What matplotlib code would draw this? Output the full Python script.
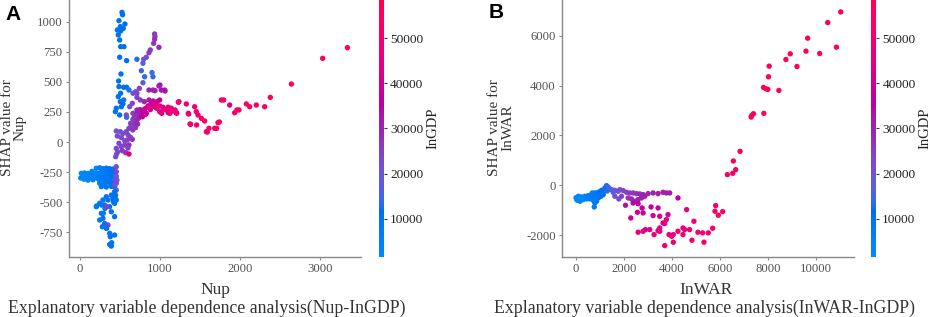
import matplotlib
matplotlib.use('Agg')
import matplotlib.pyplot as plt
import numpy as np
from matplotlib.colors import LinearSegmentedColormap

# ---------- style ----------
plt.rcParams.update({
    'font.family': 'serif',
    'font.serif': ['Liberation Serif', 'DejaVu Serif'],
    'axes.unicode_minus': False,
})

# ---------- data ----------
# Panel A: Nup vs SHAP value, coloured by InGDP
nup_x = [
    # upper blue column
    525, 533, 487, 562, 504, 541, 467, 508, 479, 496,
    508, 550, 496, 583, 712, 512, 483, 487, 546, 583,
    612, 508, 479, 504, 454, 442, 517, 537, 546, 583, 496,
    # rising purple branch
    933, 937, 933, 921, 987, 879, 862, 829, 796, 787,
    767, 808, 900, 912, 787, 696, 712, 662, 742, 862,
    912, 987, 1017, 1058, 712, 754, 804, 862, 912, 962,
    996, 879, 933, 1037, 1079, 1142, 1171, 1237, 1208, 1104,
    996, 829, 767, 712, 654, 621, 662, 579, 662, 633,
    683, 612, 579, 537, 504, 454, 467, 517, 592, 654,
    558, 517, 454, 487, 612, 529, 571, 612, 458, 471, 446,
    675, 700, 725, 750, 690, 710, 735, 760, 785, 800,
    640, 660, 695, 720, 600, 630, 560, 600, 820, 850,
    880, 900, 940, 960, 1000, 1050, 1100, 820, 780,
    # red tail
    1329, 1358, 1383, 1433, 1454, 1475, 1517, 1558, 1579, 1612,
    1683, 1725, 1767, 1796, 1871, 1933, 1962, 1987, 2079, 2121,
    2204, 2308, 2379, 2642, 3033, 3342,
    1229, 1125, 1188, 1021, 1125, 1208, 1354, 1375, 1458, 1708,
    1592, 1742, 1000, 938, 1063, 896, 958,
    # lower blue cluster
    204, 246, 287, 329, 371, 412,
    17, 58, 100, 142, 183, 225, 267, 308, 350, 392, 433,
    38, 79, 121, 163, 204, 246, 287, 329, 371, 412, 454,
    100, 163, 246, 287, 329, 371, 433,
    246, 308, 371, 412, 454,
    267, 329, 392, 433,
    10, 50, 130, 190, 225, 150, 270, 320, 390,
    454, 454, 462, 433, 454, 446,
    433, 392, 329, 287, 350, 412, 454, 246, 308, 204,
    433, 371, 392, 433, 267, 287, 246, 308, 329, 279,
    371, 433, 379, 371, 392, 208, 271, 312, 417, 437,
    350, 333, 292, 396, 333,
]
nup_shap = [
    1080, 1060, 1011, 983, 961, 947, 933, 925, 892, 850,
    794, 794, 706, 678, 689, 567, 508, 461, 456, 456,
    433, 406, 378, 336, 281, 253, 294, 317, 350, 206, 225,
    900, 878, 856, 822, 789, 767, 744, 706, 689, 656,
    594, 544, 578, 544, 494, 419, 406, 406, 447, 433,
    433, 467, 433, 433, 372, 350, 336, 350, 342, 336,
    350, 308, 294, 289, 267, 281, 258, 336, 244, 244,
    253, 239, 225, 267, 322, 294, 239, 225, 189, 156,
    142, 114, 86, 72, 86, 92, 50, 36, 17, 22,
    -25, -39, -53, -11, -25, -72, -89, -100, -100, -81, -122,
    200, 230, 250, 270, 160, 180, 200, 220, 250, 270,
    130, 100, 120, 150, 60, 40, 10, -50, 280, 300,
    270, 320, 310, 280, 300, 270, 290, 230, 210,
    317, 233, 147, 294, 253, 225, 197, 175, 86, 114,
    114, 161, 350, 350, 308, 244, 267, 267, 317, 294,
    308, 294, 372, 483, 697, 786,
    331, 281, 267, 239, 239, 239, 239, 150, 142, 114,
    83, 167, 475, 428, 425, 328, 322,
    -219, -215, -222, -218, -222, -225,
    -261, -258, -262, -265, -260, -262, -258, -265, -262, -258, -262,
    -289, -285, -292, -288, -293, -289, -285, -292, -288, -290, -285,
    -318, -315, -320, -316, -322, -315, -317,
    -344, -348, -342, -346, -344,
    -372, -375, -370, -372,
    -300, -310, -300, -280, -305, -245, -240, -240, -240,
    -206, -247, -317, -358, -400, -442,
    -414, -442, -456, -483, -483, -469, -483, -511, -525, -539,
    -511, -539, -581, -622, -594, -636, -650, -678, -719, -706,
    -761, -775, -789, -853, -867, -533, -525, -553, -497, -456,
    -692, -719, -594, -839, -539,
]
nup_gdp = [
    11000, 11000, 10500, 11500, 11000, 11000, 10500, 11000, 10500, 11000,
    11000, 11500, 10500, 12000, 13000, 11000, 10500, 11000, 11500, 12000,
    13000, 11000, 10500, 11000, 10500, 10500, 11500, 12000, 12500, 13500, 12000,
    27000, 27000, 28000, 27000, 29000, 27000, 26000, 22000, 20000, 18000,
    14000, 14000, 15000, 14000, 18000, 22000, 24000, 20000, 25000, 30000,
    31000, 31000, 32000, 32000, 25000, 26000, 30000, 32000, 33000, 34000,
    35000, 36000, 38000, 40000, 42000, 45000, 46000, 48000, 47000, 44000,
    42000, 38000, 36000, 30000, 24000, 22000, 26000, 22000, 25000, 24000,
    27000, 25000, 24000, 22000, 22000, 20000, 22000, 24000, 26000, 28000,
    25000, 24000, 22000, 24000, 28000, 26000, 27000, 44000, 20000, 22000, 20000,
    26000, 28000, 30000, 32000, 27000, 28000, 30000, 33000, 35000, 38000,
    25000, 26000, 27000, 29000, 24000, 25000, 23000, 25000, 40000, 42000,
    43000, 44000, 45000, 46000, 46000, 47000, 48000, 40000, 36000,
    50000, 50000, 52000, 51000, 51000, 52000, 52000, 53000, 53000, 53000,
    54000, 54000, 52000, 52000, 42000, 53000, 53000, 53000, 54000, 54000,
    55000, 55000, 55000, 56000, 56000, 57000,
    49000, 48000, 49000, 46000, 48000, 49000, 50000, 51000, 52000, 54000,
    53000, 54000, 30000, 31000, 33000, 40000, 44000,
    6000, 7000, 8000, 9000, 10000, 11000,
    3000, 3500, 4000, 4500, 5000, 6000, 7000, 8000, 9000, 10000, 11000,
    3000, 3500, 4000, 5000, 6000, 7000, 8000, 9000, 10000, 11000, 18000,
    4000, 5000, 7000, 8000, 9000, 10000, 20000,
    7000, 8500, 10000, 11000, 20000,
    8000, 9000, 10500, 11000,
    2500, 3000, 4500, 5500, 6500, 5000, 7500, 8500, 11000,
    22000, 24000, 22000, 20000, 18000, 16000,
    11000, 10500, 10000, 9500, 10000, 11000, 11500, 9000, 9500, 8500,
    11000, 10000, 10500, 11000, 9000, 9500, 9000, 9500, 10000, 9500,
    10500, 11000, 10500, 10500, 11000, 8500, 9000, 9500, 11000, 11000,
    25000, 10000, 9000, 10500, 25000,
]

# Panel B: InWAR vs SHAP value, coloured by InGDP
war_x = [
    # blue cluster
    28, 97, 235, 374, 512, 650, 789, 927, 1066, 1204,
    1273, 1343, 1412, 166, 304, 443, 581, 720, 789, 761,
    858, 927, 1038, 1135, 623, 678, 817, 997, 1135, 1481,
    1619, 1758, 1550,
    50, 120, 200, 280, 350, 420, 480, 550, 600, 700,
    750, 850, 900, 1000, 1100, 1200, 1300, 750, 700, 0, 60,
    # purple band
    1827, 1965, 2104, 2242, 2380, 2519, 2657, 2796, 3003, 3211,
    3419, 3626, 3765, 3903, 4249, 1896, 2062, 2173, 2311, 2450,
    2588, 2727, 2865, 1785, 1619,
    # magenta scatter
    2284, 2560, 2380, 2588, 2796, 2754, 3128, 3211, 3419, 3488,
    3626, 3834, 3765, 3696, 3488, 3419, 3073, 3253, 2893, 2796,
    2588, 3488, 3876, 3986, 4055, 3696, 4055, 4249, 4457, 4526,
    4457, 4733, 4830, 4913, 4609, 5080, 5275, 5331, 5512, 5693,
    5819, 5791, 5930, 6111,
    # red rise
    6307, 6530, 6557, 6655, 6836, 7296, 7324, 7394, 7826, 7812,
    7910, 7993, 8021, 8049, 8453, 8746, 8927, 9206, 9582, 9652,
    10153, 10488, 10850, 11031,
]
war_shap = [
    -575, -441, -508, -441, -415, -375, -308, -281, -201, -107,
    -13, -80, -147, -642, -575, -548, -548, -575, -709, -870,
    -642, -508, -441, -375, -508, -308, -441, -334, -241, -174,
    -201, -241, -281,
    -520, -560, -470, -480, -520, -470, -500, -450, -420, -450,
    -380, -350, -420, -260, -300, -200, -230, -650, -520, -500, -600,
    -174, -214, -281, -308, -308, -334, -348, -375, -334, -308,
    -334, -281, -308, -308, -508, -441, -803, -508, -548, -642,
    -575, -508, -441, -548, -441,
    -1311, -1084, -709, -736, -1110, -910, -870, -1217, -910, -1244,
    -1512, -1177, -1378, -1538, -1712, -1819, -1779, -1980, -1779, -1846,
    -1886, -1846, -1980, -2047, -1980, -2421, -2288, -1846, -1712, -1779,
    -1980, -1779, -2207, -1445, -977, -1886, -1911, -2285, -1911, -1724,
    -815, -1042, -1203, -1056,
    428, 481, 976, 628, 1363, 2740, 2806, 2873, 2887, 3929,
    3876, 3849, 4357, 4784, 3809, 5051, 5279, 4771, 5386, 5907,
    5292, 6535, 5546, 6962,
]
war_gdp = [
    2500, 3000, 3500, 4000, 5000, 6000, 8000, 10000, 11000, 12000,
    13000, 14000, 15000, 3000, 3500, 4500, 5500, 7000, 8000, 8000,
    9000, 10000, 11000, 12000, 6000, 6500, 8500, 10500, 12000, 17000,
    20000, 22000, 18000,
    2500, 3000, 3500, 4000, 4000, 4500, 5000, 5500, 6000, 7000,
    7500, 9000, 9500, 11000, 11500, 12500, 13500, 8000, 7000, 2000, 2500,
    22000, 24000, 25000, 26000, 27000, 28000, 29000, 30000, 30000, 30000,
    31000, 30000, 31000, 32000, 36000, 24000, 33000, 27000, 29000, 31000,
    30000, 30000, 31000, 23000, 20000,
    40000, 40000, 36000, 37000, 40000, 38000, 38000, 42000, 40000, 43000,
    44000, 43000, 44000, 45000, 46000, 46000, 45000, 47000, 45000, 45000,
    46000, 47000, 48000, 48000, 48000, 50000, 50000, 48000, 48000, 49000,
    50000, 50000, 51000, 50000, 45000, 51000, 52000, 52000, 52000, 53000,
    53000, 53000, 53000, 54000,
    54000, 54000, 55000, 55000, 55000, 55000, 55000, 55000, 56000, 56000,
    56000, 56000, 56000, 56000, 56000, 57000, 57000, 57000, 57000, 57000,
    57000, 58000, 58000, 58000,
]

GDP_MIN, GDP_MAX = 1600, 58400
CB_TICKS = [10000, 20000, 30000, 40000, 50000]


# ---------- shap-like red/blue colormap (Lch interpolation) ----------
def lch_to_rgb(l, c, h):
    a, b = c * np.cos(h), c * np.sin(h)
    fy = (l + 16) / 116
    f = np.array([a / 500 + fy, fy, fy - b / 200])
    t = np.where(f ** 3 > 0.008856, f ** 3, (f - 16 / 116) / 7.787)
    xyz = t * np.array([0.95047, 1.0, 1.08883])
    m = np.array([[3.2406, -1.5372, -0.4986],
                  [-0.9689, 1.8758, 0.0415],
                  [0.0557, -0.2040, 1.0570]])
    rgb = m @ xyz
    rgb = np.where(rgb > 0.0031308,
                   1.055 * np.clip(rgb, 0.0031308, None) ** (1 / 2.4) - 0.055,
                   12.92 * rgb)
    return np.clip(rgb, 0, 1)


n = 100
l_vals = list(np.linspace(54, 40, n // 2)) + list(np.linspace(40, 54, n // 2))
c_vals = np.linspace(70, 90, n)
h_vals = np.linspace(4.6588, 0.35470565 + 2 * np.pi, n)
cmap = LinearSegmentedColormap.from_list(
    'red_blue', [lch_to_rgb(l, c, h) for l, c, h in zip(l_vals, c_vals, h_vals)])

# ---------- figure ----------
W, H = 934, 317
fig = plt.figure(figsize=(W / 100, H / 100), dpi=100)


def px(x0, y0, w, h):
    # pixel box (top-left origin) -> figure fraction
    return [x0 / W, 1 - (y0 + h) / H, w / W, h / H]


def panel(ax, cax, x, y, c, xlim, ylim, xticks, yticks):
    sc = ax.scatter(x, y, c=c, cmap=cmap, vmin=GDP_MIN, vmax=GDP_MAX,
                    s=15, linewidths=0)
    ax.set_xlim(*xlim)
    ax.set_ylim(*ylim)
    ax.set_xticks(xticks)
    ax.set_yticks(yticks)
    for s in ['top', 'right']:
        ax.spines[s].set_visible(False)
    for s in ['left', 'bottom']:
        ax.spines[s].set_color('#888888')
        ax.spines[s].set_linewidth(1.0)
    ax.tick_params(length=2.5, width=0.8, color='#888888',
                   labelcolor='#555555', labelsize=9.2, pad=2)
    cb = fig.colorbar(sc, cax=cax)
    cb.outline.set_visible(False)
    cb.set_ticks(CB_TICKS)
    cb.ax.tick_params(length=2.5, width=0.8, color='#333333',
                      labelcolor='#222222', labelsize=9.6, pad=2)
    cb.set_label('InGDP', fontsize=10.5, color='#222222', labelpad=2)
    return sc


axA = fig.add_axes(px(69, 0, 292, 257))
caxA = fig.add_axes(px(379, 0, 5, 257))
panel(axA, caxA, nup_x, nup_shap, nup_gdp, (-137, 3512), (-958, 1183),
      [0, 1000, 2000, 3000], list(range(-750, 1001, 250)))

axB = fig.add_axes(px(562, 0, 292, 257))
caxB = fig.add_axes(px(871, 0, 5, 257))
panel(axB, caxB, war_x, war_shap, war_gdp, (-583, 11583), (-2880, 7440),
      [0, 2000, 4000, 6000, 8000, 10000], [-2000, 0, 2000, 4000, 6000])

# ---- labels ----
fig.text(14 / W, 1 - 128 / H, 'SHAP value for\nNup', rotation=90,
         ha='center', va='center', fontsize=11, color='#333333', linespacing=1.0)
fig.text(501 / W, 1 - 128 / H, 'SHAP value for\nInWAR', rotation=90,
         ha='center', va='center', fontsize=11, color='#333333', linespacing=1.0)

fig.text(215 / W, 1 - 290 / H, 'Nup', ha='center', va='center',
         fontsize=12.5, color='#333333')
fig.text(706 / W, 1 - 290 / H, 'InWAR', ha='center', va='center',
         fontsize=12.5, color='#333333')

fig.text(207 / W, 1 - 308 / H, 'Explanatory variable dependence analysis(Nup-InGDP)',
         ha='center', va='center', fontsize=12.8, color='#333333')
fig.text(705 / W, 1 - 308 / H, 'Explanatory variable dependence analysis(InWAR-InGDP)',
         ha='center', va='center', fontsize=12.8, color='#333333')

fig.text(13 / W, 1 - 14 / H, 'A', ha='center', va='center', fontsize=15,
         fontweight='bold', family='Liberation Sans', color='black')
fig.text(496 / W, 1 - 13 / H, 'B', ha='center', va='center', fontsize=15,
         fontweight='bold', family='Liberation Sans', color='black')

plt.savefig('out.png', dpi=100, facecolor='white')
plt.close()
